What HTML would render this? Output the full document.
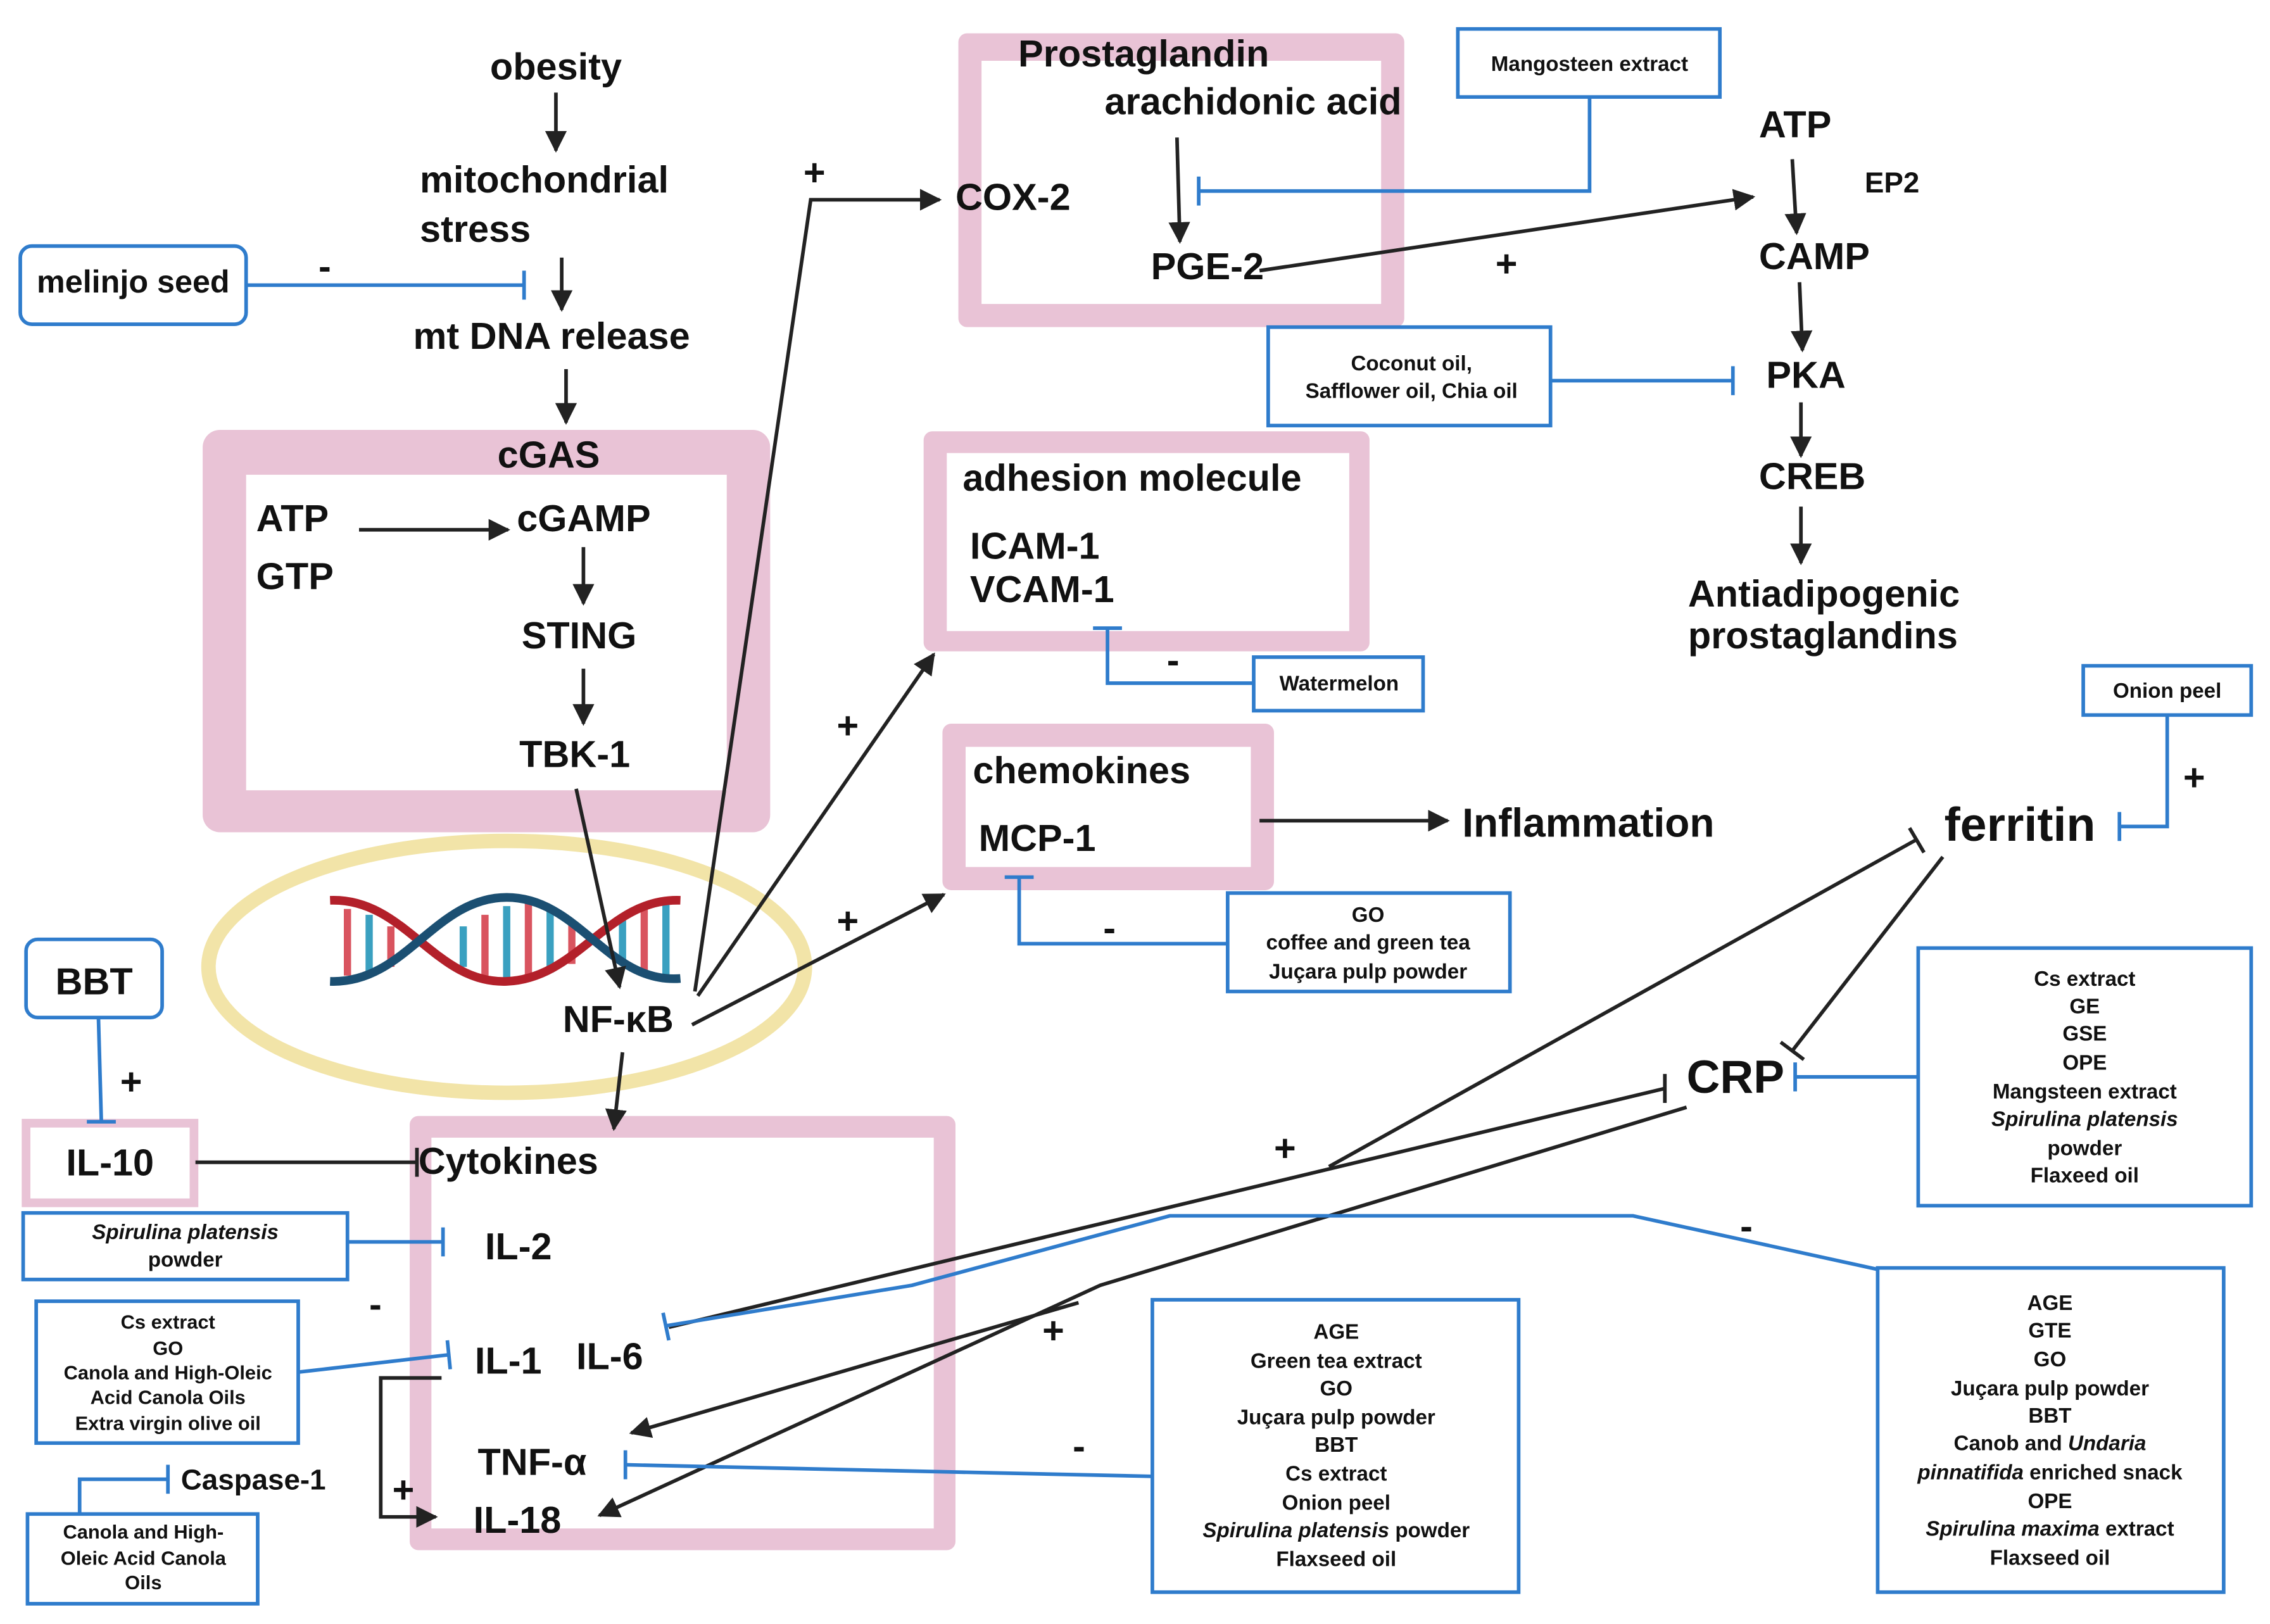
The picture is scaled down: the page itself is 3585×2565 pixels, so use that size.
<!DOCTYPE html>
<html><head><meta charset="utf-8"><style>
html,body{margin:0;padding:0;background:#fff;}
svg{display:block;}
text{font-family:"Liberation Sans",sans-serif;font-weight:bold;fill:#111;}
.m{font-size:26px;}
.s{font-size:14.5px;}
.c{text-anchor:middle;}
</style></head><body>
<svg width="3585" height="2565" viewBox="0 0 1568 1122" preserveAspectRatio="none" xmlns="http://www.w3.org/2000/svg">
<defs>
<marker id="a" viewBox="0 0 10 10" refX="9" refY="5" markerWidth="6" markerHeight="6" orient="auto-start-reverse"><path d="M0,0L10,5L0,10z" fill="#222"/></marker>
</defs>
<rect width="1568" height="1122" fill="#fff"/>

<rect x="140" y="297" width="392" height="278" rx="12" fill="#e9c3d6"/>
<rect x="170" y="328" width="332" height="218" fill="#fff"/>
<rect x="662" y="23" width="308" height="203" rx="6" fill="#e9c3d6"/>
<rect x="678" y="42" width="276" height="168" fill="#fff"/>
<rect x="638" y="298" width="308" height="152" rx="6" fill="#e9c3d6"/>
<rect x="654" y="313" width="278" height="123" fill="#fff"/>
<rect x="651" y="500" width="229" height="115" rx="6" fill="#e9c3d6"/>
<rect x="667" y="516" width="197" height="83" fill="#fff"/>
<rect x="283" y="771" width="377" height="300" rx="6" fill="#e9c3d6"/>
<rect x="298" y="786" width="347" height="270" fill="#fff"/>
<rect x="18" y="776" width="116" height="55" fill="#fff" stroke="#e9c3d6" stroke-width="6"/>

<ellipse cx="350" cy="668" rx="206" ry="87" fill="none" stroke="#f2e4a8" stroke-width="10"/>

<g stroke-width="6">
<g stroke-width="5">
<line x1="240" y1="628" x2="240" y2="674" stroke="#d9545f"/><line x1="255" y1="632" x2="255" y2="672" stroke="#3aa0c0"/>
<line x1="270" y1="640" x2="270" y2="668" stroke="#d9545f"/><line x1="320" y1="640" x2="320" y2="668" stroke="#3aa0c0"/>
<line x1="335" y1="632" x2="335" y2="674" stroke="#d9545f"/><line x1="350" y1="626" x2="350" y2="678" stroke="#3aa0c0"/>
<line x1="365" y1="624" x2="365" y2="676" stroke="#d9545f"/><line x1="380" y1="628" x2="380" y2="672" stroke="#3aa0c0"/>
<line x1="395" y1="636" x2="395" y2="666" stroke="#d9545f"/><line x1="430" y1="636" x2="430" y2="664" stroke="#3aa0c0"/>
<line x1="445" y1="628" x2="445" y2="672" stroke="#d9545f"/><line x1="460" y1="622" x2="460" y2="676" stroke="#3aa0c0"/>
</g>
<path d="M228,622 C280,620 300,680 350,678 C400,676 420,620 470,622" fill="none" stroke="#b3202a"/>
<path d="M228,678 C280,680 300,620 350,620 C400,620 420,680 470,676" fill="none" stroke="#1b4f72"/>
</g>

<text class="m c" x="384" y="55">obesity</text>
<text class="m" x="290" y="133">mitochondrial</text>
<text class="m" x="290" y="167">stress</text>
<text class="m c" x="381" y="241">mt DNA release</text>
<text class="m c" x="379" y="323">cGAS</text>
<text class="m" x="177" y="367">ATP</text>
<text class="m" x="177" y="407">GTP</text>
<text class="m" x="357" y="367">cGAMP</text>
<text class="m c" x="400" y="448">STING</text>
<text class="m c" x="397" y="530">TBK-1</text>
<text class="m c" x="427" y="713">NF-κB</text>
<text class="m c" x="790" y="46">Prostaglandin</text>
<text class="m" x="763" y="79">arachidonic acid</text>
<text class="m" x="660" y="145">COX-2</text>
<text class="m" x="795" y="193">PGE-2</text>
<text class="m" x="1215" y="95">ATP</text>
<text style="font-size:20px" x="1288" y="133">EP2</text>
<text class="m" x="1215" y="186">CAMP</text>
<text class="m" x="1220" y="268">PKA</text>
<text class="m" x="1215" y="338">CREB</text>
<text class="m" x="1166" y="419">Antiadipogenic</text>
<text class="m" x="1166" y="448">prostaglandins</text>
<text class="m" x="665" y="339">adhesion molecule</text>
<text class="m" x="670" y="386">ICAM-1</text>
<text class="m" x="670" y="416">VCAM-1</text>
<text class="m" x="672" y="541">chemokines</text>
<text class="m" x="676" y="588">MCP-1</text>
<text style="font-size:28px" x="1010" y="578">Inflammation</text>
<text style="font-size:33px" x="1343" y="581">ferritin</text>
<text style="font-size:32px" x="1165" y="755">CRP</text>
<text style="font-size:26px" class="c" x="76" y="812">IL-10</text>
<text class="m" x="289" y="811">Cytokines</text>
<text class="m" x="335" y="870">IL-2</text>
<text class="m" x="328" y="949">IL-1</text>
<text class="m" x="398" y="946">IL-6</text>
<text class="m" x="330" y="1019">TNF-α</text>
<text class="m" x="327" y="1059">IL-18</text>
<text style="font-size:20px" x="125" y="1029">Caspase-1</text>

<g style="font-size:26px">
<text x="555" y="128">+</text><text x="578" y="510">+</text><text x="578" y="645">+</text>
<text x="1033" y="191">+</text><text x="1508" y="546">+</text><text x="83" y="756">+</text>
<text x="880" y="802">+</text><text x="720" y="928">+</text><text x="271" y="1038">+</text>
<text x="220" y="193">-</text><text x="806" y="465">-</text><text x="762" y="650">-</text>
<text x="255" y="910">-</text><text x="741" y="1008">-</text><text x="1202" y="856">-</text>
</g>

<g stroke="#222" stroke-width="2.5" fill="none">
<line x1="384" y1="64" x2="384" y2="104" marker-end="url(#a)"/>
<line x1="388" y1="178" x2="388" y2="214" marker-end="url(#a)"/>
<line x1="391" y1="255" x2="391" y2="292" marker-end="url(#a)"/>
<line x1="248" y1="366" x2="351" y2="366" marker-end="url(#a)"/>
<line x1="403" y1="378" x2="403" y2="417" marker-end="url(#a)"/>
<line x1="403" y1="462" x2="403" y2="500" marker-end="url(#a)"/>
<line x1="398" y1="545" x2="428" y2="682" marker-end="url(#a)"/>
<line x1="430" y1="727" x2="424" y2="780" marker-end="url(#a)"/>
<polyline points="480,685 560,138 649,138" marker-end="url(#a)"/>
<line x1="482" y1="688" x2="645" y2="452" marker-end="url(#a)"/>
<line x1="478" y1="708" x2="652" y2="618" marker-end="url(#a)"/>
<line x1="813" y1="95" x2="815" y2="167" marker-end="url(#a)"/>
<line x1="870" y1="187" x2="1211" y2="136" marker-end="url(#a)"/>
<line x1="1238" y1="110" x2="1241" y2="161" marker-end="url(#a)"/>
<line x1="1243" y1="195" x2="1245" y2="242" marker-end="url(#a)"/>
<line x1="1244" y1="278" x2="1244" y2="315" marker-end="url(#a)"/>
<line x1="1244" y1="350" x2="1244" y2="389" marker-end="url(#a)"/>
<line x1="870" y1="567" x2="1000" y2="567" marker-end="url(#a)"/>
<line x1="1342" y1="592" x2="1238" y2="726"/>
<line x1="1230" y1="720" x2="1246" y2="732"/>
<line x1="135" y1="803" x2="288" y2="803"/><line x1="288" y1="793" x2="288" y2="813"/>
<line x1="462" y1="917" x2="1150" y2="752"/><line x1="1150" y1="742" x2="1150" y2="762"/>
<line x1="918" y1="806" x2="1324" y2="580"/><line x1="1319" y1="572" x2="1329" y2="589"/>
<polyline points="1165,765 760,888 414,1047" marker-end="url(#a)"/>
<line x1="745" y1="900" x2="436" y2="990" marker-end="url(#a)"/>
<polyline points="305,952 263,952 263,1048 301,1048" marker-end="url(#a)"/>
</g>

<g fill="#fff" stroke="#2f7ccc" stroke-width="2.5">
<rect x="14" y="170" width="156" height="54" rx="8"/>
<rect x="18" y="649" width="94" height="54" rx="8"/>
<rect x="1007" y="20" width="181" height="47"/>
<rect x="876" y="226" width="195" height="68"/>
<rect x="866" y="454" width="117" height="37"/>
<rect x="848" y="617" width="195" height="68"/>
<rect x="1439" y="460" width="116" height="34"/>
<rect x="1325" y="655" width="230" height="178"/>
<rect x="16" y="838" width="224" height="46"/>
<rect x="25" y="899" width="181" height="98"/>
<rect x="19" y="1046" width="159" height="62"/>
<rect x="796" y="898" width="253" height="202"/>
<rect x="1297" y="876" width="239" height="224"/>
</g>
<g stroke="#2f7ccc" stroke-width="2.5" fill="none">
<line x1="170" y1="197" x2="362" y2="197"/><line x1="362" y1="187" x2="362" y2="207"/>
<polyline points="1098,67 1098,132 828,132"/><line x1="828" y1="122" x2="828" y2="142"/>
<line x1="1071" y1="263" x2="1197" y2="263"/><line x1="1197" y1="253" x2="1197" y2="273"/>
<polyline points="866,472 765,472 765,434"/><line x1="755" y1="434" x2="775" y2="434"/>
<polyline points="848,652 704,652 704,606"/><line x1="694" y1="606" x2="714" y2="606"/>
<polyline points="1497,494 1497,571 1464,571"/><line x1="1464" y1="561" x2="1464" y2="581"/>
<line x1="1325" y1="744" x2="1240" y2="744"/><line x1="1240" y1="734" x2="1240" y2="754"/>
<line x1="68" y1="703" x2="70" y2="775"/><line x1="60" y1="775" x2="80" y2="775"/>
<line x1="240" y1="858" x2="306" y2="858"/><line x1="306" y1="848" x2="306" y2="868"/>
<line x1="206" y1="948" x2="310" y2="936"/><line x1="309" y1="926" x2="311" y2="946"/>
<polyline points="55,1046 55,1022 116,1022"/><line x1="116" y1="1012" x2="116" y2="1032"/>
<line x1="796" y1="1020" x2="432" y2="1012"/><line x1="432" y1="1002" x2="432" y2="1022"/>
<polyline points="1297,877 1128,840 808,840 630,888 460,916"/><line x1="458" y1="907" x2="462" y2="926"/>
</g>

<text style="font-size:22px" class="c" x="92" y="202">melinjo seed</text>
<text style="font-size:26px" class="c" x="65" y="687">BBT</text>
<text class="s c" x="1098" y="49">Mangosteen extract</text>
<text class="s c" x="975" y="256">Coconut oil,</text>
<text class="s c" x="975" y="275">Safflower oil, Chia oil</text>
<text class="s c" x="925" y="477">Watermelon</text>
<text class="s c" x="945" y="637">GO</text>
<text class="s c" x="945" y="656">coffee and green tea</text>
<text class="s c" x="945" y="676">Juçara pulp powder</text>
<text class="s c" x="1497" y="482">Onion peel</text>
<text class="s c" x="1440" y="681">Cs extract</text>
<text class="s c" x="1440" y="700">GE</text>
<text class="s c" x="1440" y="719">GSE</text>
<text class="s c" x="1440" y="739">OPE</text>
<text class="s c" x="1440" y="759">Mangsteen extract</text>
<text class="s c" x="1440" y="778" font-style="italic">Spirulina platensis</text>
<text class="s c" x="1440" y="798">powder</text>
<text class="s c" x="1440" y="817">Flaxeed oil</text>
<text class="s c" x="128" y="856" font-style="italic">Spirulina platensis</text>
<text class="s c" x="128" y="875">powder</text>
<text style="font-size:13.5px" class="c" x="116" y="918">Cs extract</text>
<text style="font-size:13.5px" class="c" x="116" y="936">GO</text>
<text style="font-size:13.5px" class="c" x="116" y="953">Canola and High-Oleic</text>
<text style="font-size:13.5px" class="c" x="116" y="970">Acid Canola Oils</text>
<text style="font-size:13.5px" class="c" x="116" y="988">Extra virgin olive oil</text>
<text style="font-size:13.5px" class="c" x="99" y="1063">Canola and High-</text>
<text style="font-size:13.5px" class="c" x="99" y="1081">Oleic Acid Canola</text>
<text style="font-size:13.5px" class="c" x="99" y="1098">Oils</text>
<text class="s c" x="923" y="925">AGE</text>
<text class="s c" x="923" y="945">Green tea extract</text>
<text class="s c" x="923" y="964">GO</text>
<text class="s c" x="923" y="984">Juçara pulp powder</text>
<text class="s c" x="923" y="1003">BBT</text>
<text class="s c" x="923" y="1023">Cs extract</text>
<text class="s c" x="923" y="1043">Onion peel</text>
<text class="s c" x="923" y="1062"><tspan font-style="italic">Spirulina platensis</tspan> powder</text>
<text class="s c" x="923" y="1082">Flaxseed oil</text>
<text class="s c" x="1416" y="905">AGE</text>
<text class="s c" x="1416" y="924">GTE</text>
<text class="s c" x="1416" y="944">GO</text>
<text class="s c" x="1416" y="964">Juçara pulp powder</text>
<text class="s c" x="1416" y="983">BBT</text>
<text class="s c" x="1416" y="1002">Canob and <tspan font-style="italic">Undaria</tspan></text>
<text class="s c" x="1416" y="1022"><tspan font-style="italic">pinnatifida</tspan> enriched snack</text>
<text class="s c" x="1416" y="1042">OPE</text>
<text class="s c" x="1416" y="1061"><tspan font-style="italic">Spirulina maxima</tspan> extract</text>
<text class="s c" x="1416" y="1081">Flaxseed oil</text>
</svg>
</body></html>
